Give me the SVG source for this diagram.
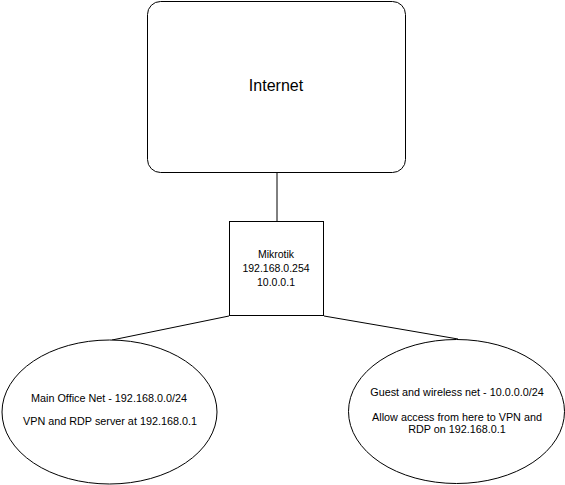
<svg xmlns="http://www.w3.org/2000/svg" width="565" height="485" viewBox="0 0 565 485">
<style>
.s{fill:#fff;stroke:#000;stroke-width:1}
.c{stroke:#000;stroke-width:1;fill:none}
text{font-family:"Liberation Sans",Arial,sans-serif;fill:#000;text-anchor:middle}
.sm{font-size:10.8px}
</style>
<rect width="565" height="485" fill="#fff"/>
<g id="connectors">
<line class="c" x1="277" y1="173" x2="277" y2="221"/>
<line class="c" x1="229" y1="316" x2="112" y2="340"/>
<line class="c" x1="324" y1="316" x2="458" y2="339"/>
</g>
<g id="internet">
<rect class="s" x="147.5" y="1.5" width="258" height="171" rx="13" ry="13"/>
<text x="276" y="91" font-size="16">Internet</text>
</g>
<g id="mikrotik">
<rect class="s" x="229.5" y="221.5" width="94" height="94"/>
<text x="276" y="258" font-size="10.5">Mikrotik</text>
<text x="276" y="272" font-size="10.5">192.168.0.254</text>
<text x="276" y="286" font-size="10.5">10.0.0.1</text>
</g>
<g id="main-office">
<ellipse class="s" cx="109.5" cy="412" rx="107.5" ry="72"/>
<text class="sm" x="109" y="402">Main Office Net - 192.168.0.0/24</text>
<text class="sm" x="110" y="425">VPN and RDP server at 192.168.0.1</text>
</g>
<g id="guest">
<ellipse class="s" cx="456.5" cy="411.5" rx="108" ry="72"/>
<text class="sm" x="457" y="396">Guest and wireless net - 10.0.0.0/24</text>
<text class="sm" x="457" y="421">Allow access from here to VPN and</text>
<text class="sm" x="457" y="433">RDP on 192.168.0.1</text>
</g>
</svg>
